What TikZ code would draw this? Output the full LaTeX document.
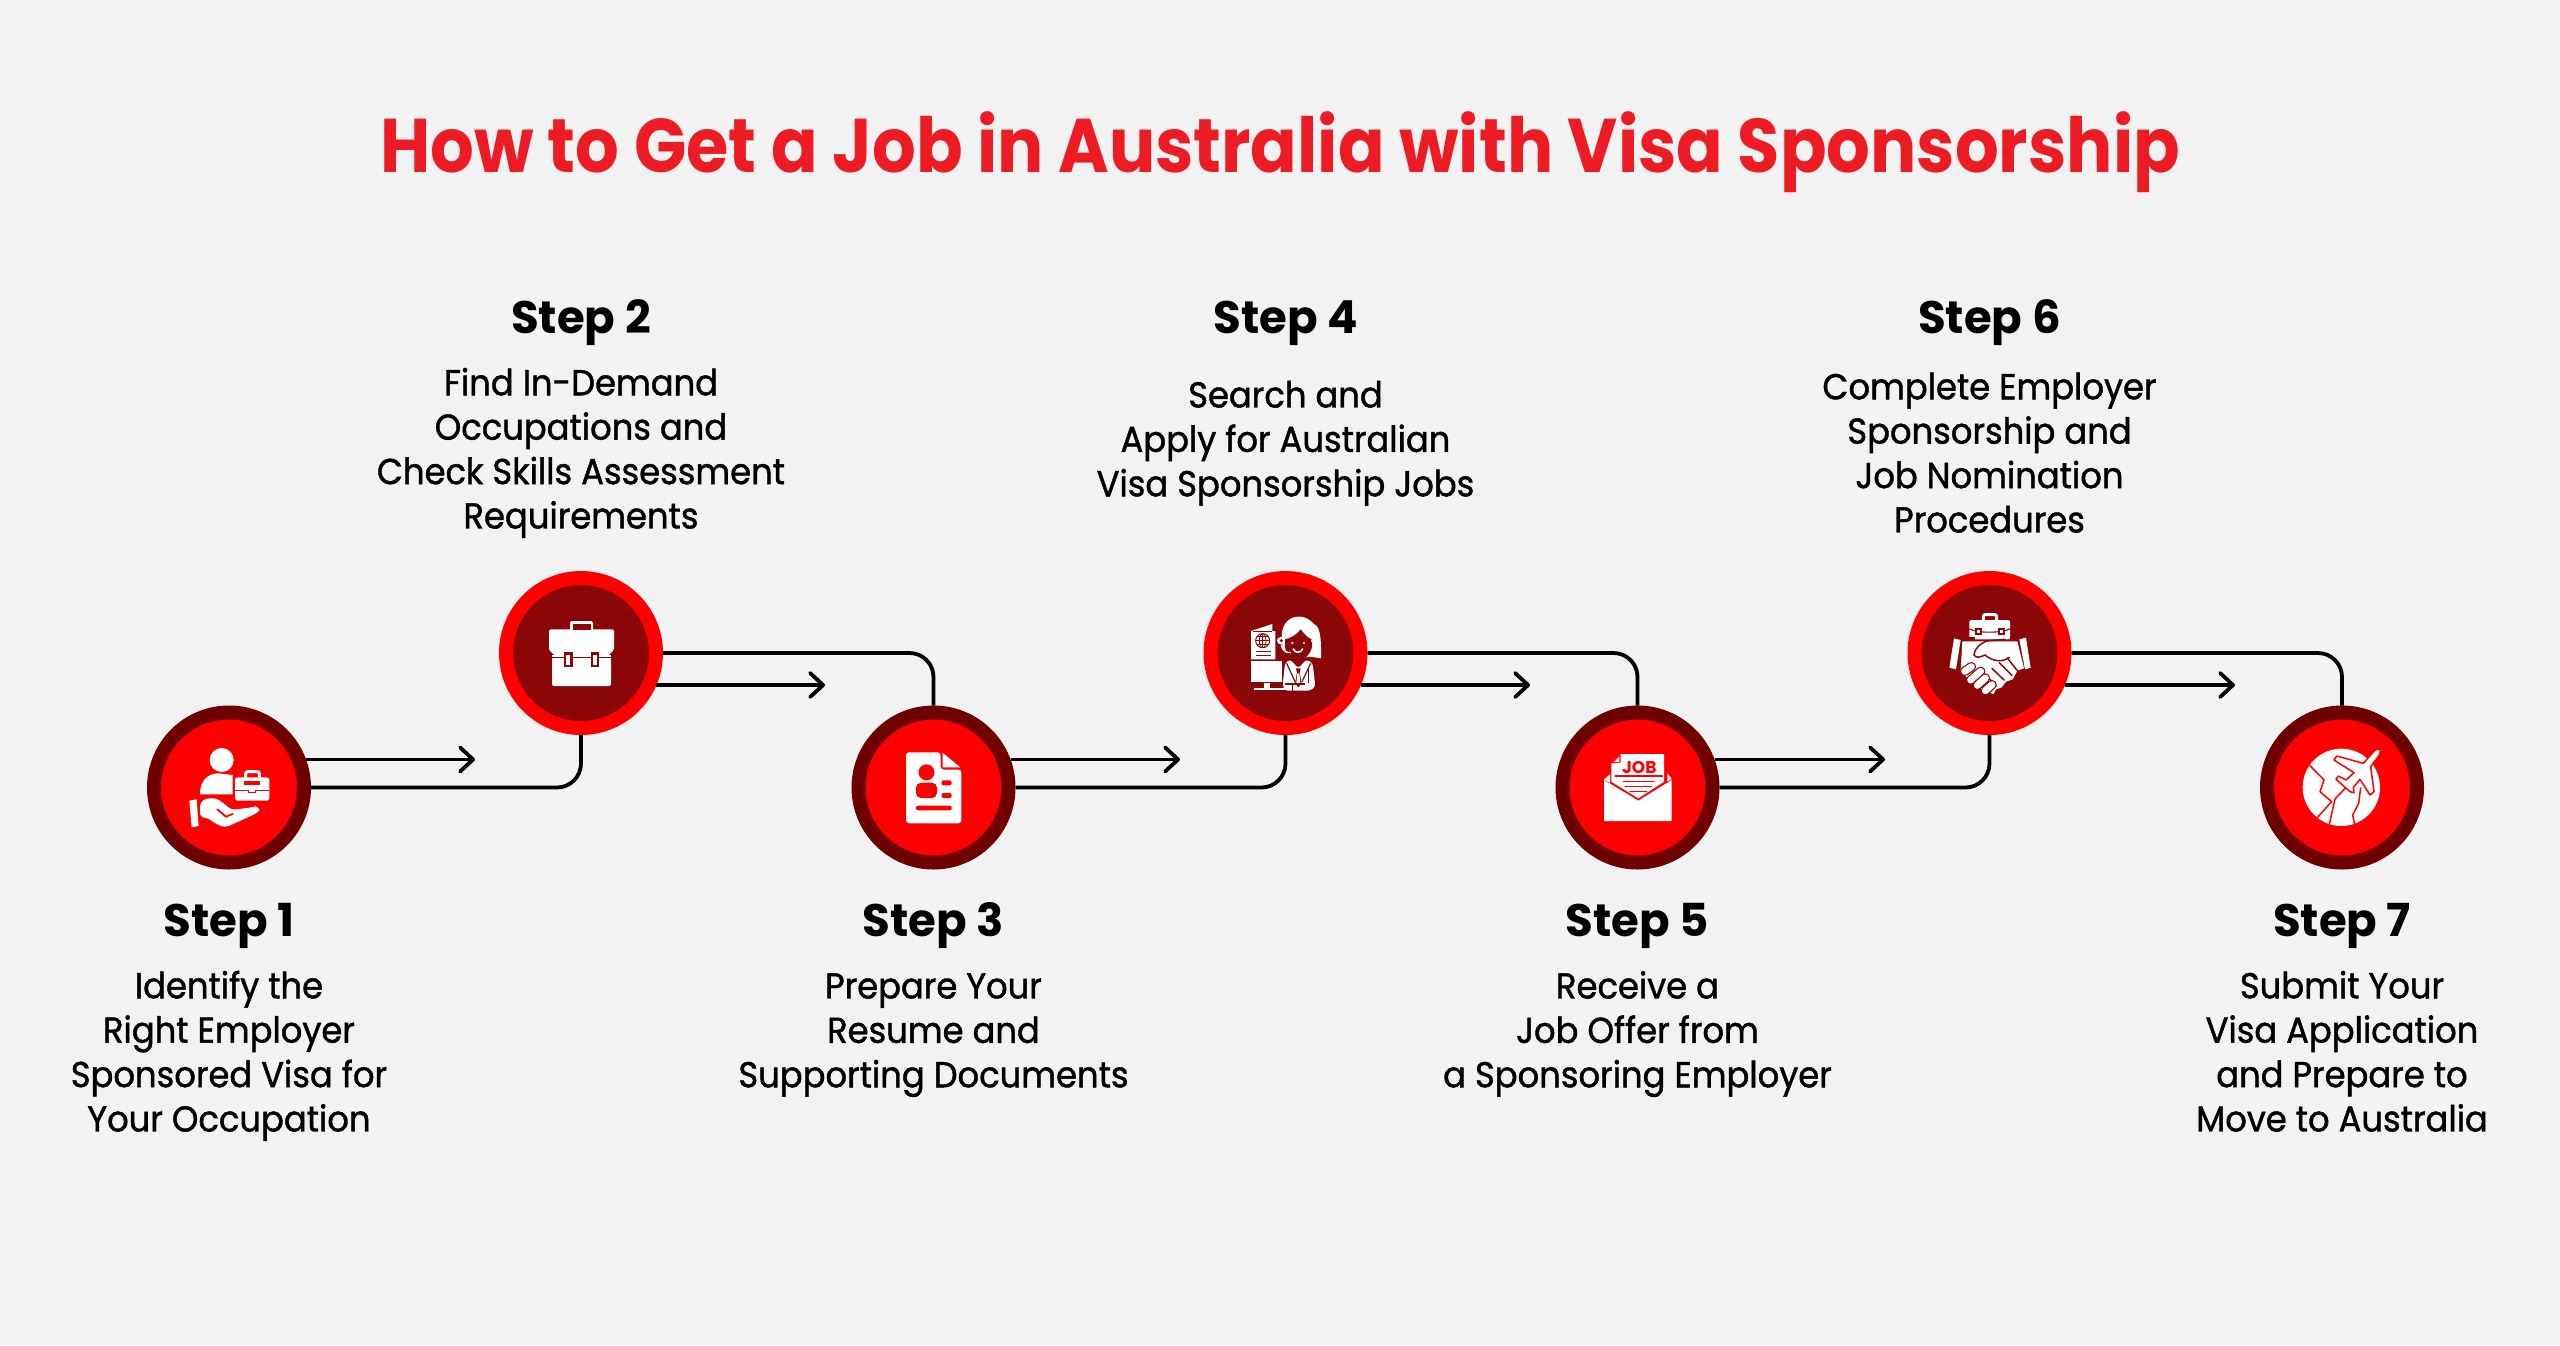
\documentclass[tikz,border=0pt]{standalone}
\usepackage{fontspec}
\usetikzlibrary{arrows.meta,calc}
\setmainfont{Poppins}
\newfontfamily\titlefont{Poppins}[FakeStretch=0.904]
\newfontfamily\stepfont{Poppins}[FakeStretch=0.99]
\newfontface\bodyfont{Poppins}[FakeStretch=0.938,FakeBold=1.2]
\newfontfamily\jobfont{Poppins}
\definecolor{pagebg}{HTML}{F2F2F2}
\definecolor{titlered}{HTML}{ED1C24}
\definecolor{ringdark}{HTML}{6E0000}
\definecolor{purered}{HTML}{FF0000}
\definecolor{coredark}{HTML}{8B0606}
\tikzset{
  x=1pt,y=-1pt,
  oddstep/.style={circle,draw=ringdark,fill=purered,line width=14pt,minimum size=150pt,inner sep=0pt},
  evenstep/.style={circle,draw=purered,fill=coredark,line width=14pt,minimum size=150pt,inner sep=0pt},
  titletext/.style={font=\titlefont\bfseries\fontsize{76}{90}\selectfont,text=titlered,inner sep=0pt},
  steplabel/.style={font=\stepfont\bfseries\fontsize{45.5}{50}\selectfont,text=black,inner sep=0pt,anchor=base},
  bodytext/.style={font=\bodyfont\fontsize{36}{44.4}\selectfont,text=black,inner sep=0pt,align=center,anchor=center},
  link/.style={draw=black,line width=3.8pt,rounded corners=24pt},
  pointer/.style={draw=black,line width=3.8pt,-{Straight Barb[length=13pt,width=24pt,round]}},
}
\newcommand{\bl}[1]{\strut#1\strut}
\begin{document}
\begin{tikzpicture}
\useasboundingbox (0,0) rectangle (2560,1345);
\fill[pagebg] (0,0) rectangle (2560,1345);
\node[titletext] (title) at (1280,152) {How to Get a Job in Australia with Visa Sponsorship};

% step circles
\node[oddstep]  (s1) at (229,787.5) {};
\node[evenstep] (s2) at (581,653) {};
\node[oddstep]  (s3) at (933.5,787.5) {};
\node[evenstep] (s4) at (1285.5,653) {};
\node[oddstep]  (s5) at (1637.5,787.5) {};
\node[evenstep] (s6) at (1989.5,653) {};
\node[oddstep]  (s7) at (2342,787.5) {};

% arrow ends
\coordinate (a1) at (475,0 |- s1.20.9);
\coordinate (a2) at (825,0 |- s2.-23);
\coordinate (a3) at (1180,0 |- s3.20.9);
\coordinate (a4) at (1530,0 |- s4.-23);
\coordinate (a5) at (1885,0 |- s5.20.9);
\coordinate (a6) at (2235,0 |- s6.-23);

% connectors
\draw[link] (s1.east) -- (s2.south |- s1.east) -- (s2.south);
\draw[link] (s2.east) -- (s3.north |- s2.east) -- (s3.north);
\draw[link] (s3.east) -- (s4.south |- s3.east) -- (s4.south);
\draw[link] (s4.east) -- (s5.north |- s4.east) -- (s5.north);
\draw[link] (s5.east) -- (s6.south |- s5.east) -- (s6.south);
\draw[link] (s6.east) -- (s7.north |- s6.east) -- (s7.north);
\draw[pointer] (s1.20.9) -- (a1);
\draw[pointer] (s2.-23) -- (a2);
\draw[pointer] (s3.20.9) -- (a3);
\draw[pointer] (s4.-23) -- (a4);
\draw[pointer] (s5.20.9) -- (a5);
\draw[pointer] (s6.-23) -- (a6);

% step labels
\node[steplabel] (l1) at (229,936) {Step 1};
\node[steplabel] (l2) at (581,333) {Step 2};
\node[steplabel] (l3) at (933.5,936) {Step 3};
\node[steplabel] (l4) at (1285.5,333) {Step 4};
\node[steplabel] (l5) at (1637.5,936) {Step 5};
\node[steplabel] (l6) at (1989.5,333) {Step 6};
\node[steplabel] (l7) at (2342,936) {Step 7};

% step descriptions
\node[bodytext] (b1) at (229,1056) {\bl{Identify the}\\Right Employer\\Sponsored Visa for\\\bl{Your Occupation}};
\node[bodytext] (b2) at (581,453) {\bl{Find In-Demand}\\Occupations and\\Check Skills Assessment\\\bl{Requirements}};
\node[bodytext] (b3) at (933.5,1034) {\bl{Prepare Your}\\Resume and\\\bl{Supporting Documents}};
\node[bodytext] (b4) at (1285.5,443) {\bl{Search and}\\Apply for Australian\\\bl{Visa Sponsorship Jobs}};
\node[bodytext] (b5) at (1637.5,1034) {\bl{Receive a}\\Job Offer from\\\bl{a Sponsoring Employer}};
\node[bodytext] (b6) at (1989.5,457) {\bl{Complete Employer}\\Sponsorship and\\Job Nomination\\\bl{Procedures}};
\node[bodytext] (b7) at (2342,1056) {\bl{Submit Your}\\Visa Application\\and Prepare to\\\bl{Move to Australia}};

% icon 1: hand with person and case
\begin{scope}[shift={(180,730)},scale=1/3]
\fill[white] (125,90) circle[radius=36];
\fill[white] (60,193) .. controls (60,150) and (85,130) .. (115,130) -- (158,135) -- (158,193) -- cycle;
\fill[white,rounded corners=2.5pt] (165,142) rectangle (268,212);
\draw[white,line width=3pt,rounded corners=2pt] (197,142) -- (197,125) -- (238,125) -- (238,142);
\fill[purered] (192,153) rectangle (240,165);
\draw[purered,line width=1pt] (165,182) -- (205,182) -- (205,188) -- (226,188) -- (226,182) -- (268,182);
\fill[white] (28,212) -- (50,208) -- (56,288) -- (35,292) -- cycle;
\fill[white,rounded corners=4pt] (60,218) .. controls (80,203) and (105,203) .. (125,215) -- (155,240) -- (215,232) .. controls (232,228) and (240,240) .. (230,250) -- (135,293) -- (105,280) -- (80,262) -- (60,262) -- cycle;
\draw[purered,line width=1.8pt,line cap=round] (112,238) -- (138,260) -- (158,252);
\end{scope}

% icon 2: briefcase
\fill[white,rounded corners=1.5pt] (549,629.3) -- (614,629.3) -- (614,650) -- (607,656.7) -- (556,656.7) -- (549,650) -- cycle;
\fill[white,rounded corners=2pt] (552,659) -- (611,659) -- (611,686) -- (552,686) -- cycle;
\fill[white,rounded corners=1.5pt] (570,621) rectangle (593,631);
\fill[coredark] (573,623.5) rectangle (590.5,630);
\fill[white] (552,655) rectangle (611,659.5);
\draw[coredark,line width=1pt] (551,657.6) -- (612,657.6);
\foreach \sx in {564,590.5}{
  \fill[coredark] (\sx,652) rectangle (\sx+8.5,667);
  \fill[white] (\sx+2.2,654.5) rectangle (\sx+6.3,664.5);
}

% icon 3: resume
\fill[white,rounded corners=3pt] (906,752.3) -- (940.5,752.3) -- (940.5,769.5) -- (961.4,769.5) -- (961.4,823.3) -- (906,823.3) -- cycle;
\fill[white] (942.7,752.7) -- (960.3,767.4) -- (942.7,767.4) -- cycle;
\fill[purered] (926.5,772.3) circle[radius=8];
\fill[purered,rounded corners=5pt] (916,798) -- (916,782.7) -- (937,782.7) -- (937,798) -- cycle;
\fill[purered,rounded corners=2pt] (941.5,780.3) rectangle (951.7,785.3);
\fill[purered,rounded corners=2pt] (941.5,793) rectangle (951.7,798);
\fill[purered,rounded corners=2pt] (916,805.7) rectangle (951.7,810.3);

% icon 4: agent with passport and screen
\begin{scope}[shift={(1240,600)},scale=1/3]
\fill[white] (33,93) -- (97,72) -- (97,93) -- (106,93) -- (106,178) -- (33,178) -- cycle;
\draw[coredark,line width=.9pt] (40,93) -- (97,93);
\draw[coredark,line width=1pt] (68,122) circle[radius=21];
\draw[coredark,line width=.8pt] (68,122) ellipse[x radius=10,y radius=21];
\draw[coredark,line width=.8pt] (47,122) -- (89,122) (51,110) -- (85,110) (51,134) -- (85,134) (68,101) -- (68,143);
\draw[coredark,line width=1pt] (48,155) -- (92,155) (48,165) -- (92,165);
\fill[white] (33,183) rectangle (126,245);
\fill[white] (72,248) rectangle (89,263);
\fill[white] (42,265) rectangle (135,270);
% hair
\fill[white] (125,110) .. controls (125,70) and (150,48) .. (178,50) .. controls (200,50) and (212,62) .. (222,72) .. controls (240,80) and (244,110) .. (243,175) -- (210,170) -- (170,175) -- (128,150) -- cycle;
% face
\fill[coredark] (135,118) .. controls (150,115) and (170,105) .. (182,88) .. controls (195,105) and (205,115) .. (216,118) -- (216,140) .. controls (212,165) and (190,180) .. (175,180) .. controls (155,180) and (138,165) .. (135,140) -- cycle;
\fill[white] (157,129) circle[radius=3.5];
\fill[white] (192,129) circle[radius=3.5];
\draw[white,line width=1.6pt,line cap=round] (160,147) .. controls (165,160) and (182,160) .. (188,147);
% ear + headset
\fill[white] (122,122) circle[radius=11];
\fill[coredark] (124,122) circle[radius=5];
\draw[white,line width=1.3pt] (124,134) .. controls (126,150) and (135,158) .. (152,158);
\fill[white] (219,122) circle[radius=6];
% suit
\fill[white,rounded corners=3pt] (135,190) -- (150,178) -- (175,205) -- (200,178) -- (218,190) -- (226,260) -- (210,272) -- (135,272) -- (128,256) -- cycle;
\draw[coredark,line width=1.2pt] (140,190) -- (165,245) (212,190) -- (186,245);
\fill[coredark] (168,205) -- (182,205) -- (179,218) -- (185,250) -- (175,262) -- (165,250) -- (171,218) -- cycle;
\fill[white] (172,220) -- (178,220) -- (181,248) -- (175,255) -- (169,248) -- cycle;
\draw[coredark,line width=1.2pt] (205,205) -- (205,250) (135,252) -- (195,252) (158,252) -- (158,272);
\end{scope}

% icon 5: job offer envelope
\begin{scope}[shift={(1580,730)},scale=1/3]
\fill[white] (94,100) -- (122,72) -- (252,72) -- (252,155) -- (175,205) -- (94,155) -- cycle;
\fill[purered] (94,100) -- (122,72) -- (122,98) -- cycle;
\fill[white] (102,96) -- (118,80) -- (118,96) -- cycle;
\node[font=\jobfont\bfseries\fontsize{17}{18}\selectfont,text=purered,inner sep=0pt] (jobword) at (178,112) {JOB};
\draw[purered,line width=1.3pt,line cap=round] (105,138) -- (247,138);
\draw[purered,line width=1.3pt,line cap=round] (130,155) -- (222,155) (135,170) -- (215,170) (150,185) -- (200,185);
\fill[white] (72,150) -- (175,212) -- (275,150) -- (275,273) -- (72,273) -- cycle;
\fill[white] (72,148) -- (90,133) -- (90,158) -- cycle;
\fill[white] (262,130) -- (275,146) -- (262,155) -- cycle;
\end{scope}

% icon 6: handshake with case
\begin{scope}[shift={(1930,600)},scale=1/3]
\fill[white,rounded corners=2pt] (118,60) rectangle (240,118);
\draw[white,line width=3pt,rounded corners=2pt] (160,60) -- (160,44) -- (200,44) -- (200,60);
\draw[coredark,line width=1.1pt] (118,86) .. controls (135,100) and (220,100) .. (240,86);
\fill[coredark] (136,85) rectangle (156,104);
\fill[white] (141,90) rectangle (151,99);
\fill[coredark] (205,85) rectangle (225,104);
\fill[white] (210,90) rectangle (220,99);
\fill[coredark] (118,112) rectangle (135,125);
\fill[white] (72,115) -- (92,120) -- (78,208) -- (58,203) -- cycle;
\fill[white] (268,118) -- (288,113) -- (302,203) -- (285,208) -- cycle;
\fill[white] (97,124) -- (262,124) -- (282,205) -- (262,212) -- (248,238) -- (228,245) -- (215,262) -- (198,268) -- (190,282) -- (160,272) -- (120,245) -- (92,210) -- cycle;
\draw[coredark,line width=1.5pt,line cap=round] (238,172) .. controls (215,188) and (190,185) .. (165,165) .. controls (150,172) and (138,175) .. (132,165) .. controls (132,150) and (150,128) .. (175,122) -- (225,118);
\draw[coredark,line width=1.5pt,line cap=round] (186,205) -- (222,240) (208,188) -- (246,226) (232,174) -- (262,212) (168,225) -- (198,258);
\foreach \ax/\ay/\bx/\by in {104/214/124/200, 122/240/152/214, 142/256/166/234, 166/272/186/254}{
  \draw[coredark,line width=9.5pt,line cap=round] (\ax,\ay) -- (\bx,\by);
  \draw[white,line width=7pt,line cap=round] (\ax,\ay) -- (\bx,\by);
}
\end{scope}

% icon 7: globe with plane
\begin{scope}[shift={(2280,730)},scale=1/3]
\fill[white] (184,172) circle[radius=116];
\draw[purered,line width=1.5pt,line join=round] (88,105) -- (132,150) -- (120,185) -- (155,215) -- (110,265) -- (68,232);
\draw[purered,line width=1.5pt,line join=round] (200,170) -- (165,207) -- (148,282);
\draw[purered,line width=1.5pt,line join=round] (242,172) -- (236,220) -- (218,255) -- (225,288);
\draw[purered,line width=1.5pt,fill=white,line join=round] (302,62) .. controls (298,52) and (285,58) .. (278,68) -- (250,100) -- (170,78) -- (162,90) -- (222,128) -- (198,150) -- (175,138) -- (168,148) -- (210,185) -- (222,188) -- (220,172) -- (240,148) -- (270,195) -- (282,185) -- (272,110) -- (298,75) -- cycle;
\end{scope}
\end{tikzpicture}
\end{document}
